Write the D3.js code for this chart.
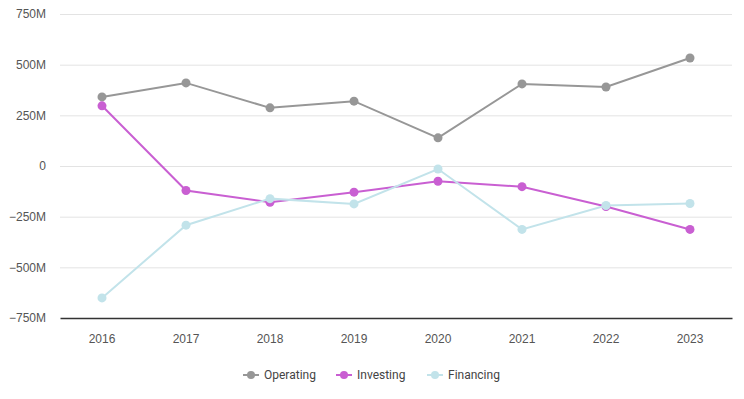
<!DOCTYPE html>
<html><head><meta charset="utf-8">
<script src="https://cdn.jsdelivr.net/npm/d3@7"></script>
<style>body{margin:0;background:#fff}svg{display:block}</style>
</head><body>
<svg id="c" width="744" height="399"></svg>
<script>
const years = ["2016","2017","2018","2019","2020","2021","2022","2023"];
const operating = [341, 410, 287, 320, 139, 405, 390, 533];
const investing = [297, -121, -179, -129, -75, -102, -200, -313];
const financing = [-651, -292, -161, -187, -15, -313, -195, -185];
const yTicks = [-750, -500, -250, 0, 250, 500, 750];
const seriesNames = ["Operating", "Investing", "Financing"];
const colors = ["#979797", "#c95fd2", "#c2e3ea"];

(function(){
const svg = d3.select("#c");
const mLeft = 60, mRight = 732, mTop = 14, mBottom = 318;
const x = d3.scaleBand().domain(years).range([mLeft, mRight]);
const y = d3.scaleLinear().domain([-750, 750]).range([mBottom, mTop]);

// grid
svg.append("g").selectAll("line").data(yTicks.filter(d => d !== -750)).join("line")
  .attr("x1", mLeft).attr("x2", mRight)
  .attr("y1", d => y(d) + 0.5).attr("y2", d => y(d) + 0.5)
  .attr("stroke", "#e3e3e3").attr("stroke-width", 1);

// y axis labels
const yAxis = d3.axisLeft(y).tickValues(yTicks).tickSize(0).tickPadding(0)
  .tickFormat(d => d === 0 ? "0" : d3.format("d")(d) + "M");
const ga = svg.append("g").attr("transform", `translate(${mLeft - 14},0)`).call(yAxis);
ga.select(".domain").remove();
ga.selectAll("text").attr("fill", "#555").style("font-family", "'Liberation Sans', Arial, sans-serif").style("font-size", "12px");

// x axis
const xAxis = d3.axisBottom(x).tickSize(0).tickPadding(16);
const gx = svg.append("g").attr("transform", `translate(0,${mBottom})`).call(xAxis);
gx.select(".domain").attr("stroke", "#333").attr("stroke-width", 1.5);
gx.selectAll("text").attr("fill", "#555").style("font-family", "'Liberation Sans', Arial, sans-serif").style("font-size", "12px");

const data = [operating, investing, financing];
const cx = d => x(d) + x.bandwidth() / 2;
const line = d3.line().x((d, i) => cx(years[i])).y(d => y(d));

data.forEach((vals, s) => {
  const g = svg.append("g");
  g.append("path").datum(vals).attr("d", line).attr("fill", "none")
    .attr("stroke", colors[s]).attr("stroke-width", 2);
  g.selectAll("circle").data(vals).join("circle")
    .attr("cx", (d, i) => cx(years[i])).attr("cy", d => y(d)).attr("r", 4.5)
    .attr("fill", colors[s]);
});

// legend
const legX = [243, 336, 427];
const lg = svg.append("g");
seriesNames.forEach((n, i) => {
  const gx0 = legX[i];
  lg.append("line").attr("x1", gx0).attr("x2", gx0 + 16).attr("y1", 375).attr("y2", 375)
    .attr("stroke", colors[i]).attr("stroke-width", 2);
  lg.append("circle").attr("cx", gx0 + 8).attr("cy", 375).attr("r", 4).attr("fill", colors[i]);
  lg.append("text").attr("x", gx0 + 21).attr("y", 375).attr("dy", "0.35em")
    .attr("fill", "#444").style("font-family", "Roboto, sans-serif").style("font-size", "12px").text(n);
});
})();
</script>
</body></html>
